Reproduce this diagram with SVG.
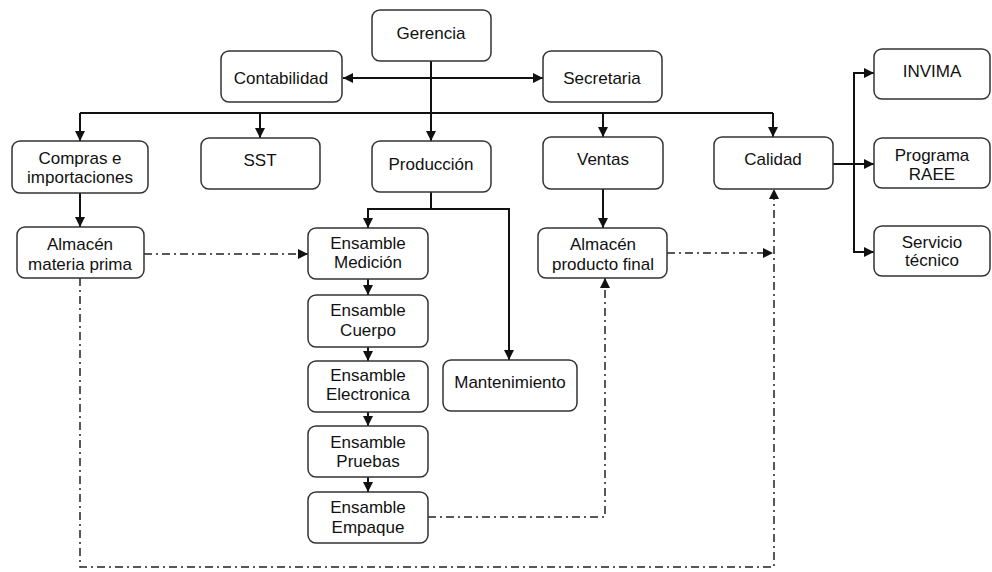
<svg xmlns="http://www.w3.org/2000/svg" width="992" height="572" viewBox="0 0 992 572">
<style>
.box{fill:#fff;stroke:#333;stroke-width:1.5}
.t{font-family:"Liberation Sans",Arial,sans-serif;font-size:17px;fill:#111;text-anchor:middle}
.s{fill:none;stroke:#111;stroke-width:2}
.d{fill:none;stroke:#222;stroke-width:1.5;stroke-dasharray:8 4 2 4}
</style>
<defs>
<marker id="a" viewBox="0 0 10 10" refX="10" refY="5" markerWidth="10" markerHeight="10" markerUnits="userSpaceOnUse" orient="auto-start-reverse">
<path d="M0,0 L10,5 L0,10 Z" fill="#111"/>
</marker>
</defs>
<rect width="992" height="572" fill="#fff"/>
<g id="connectors">
<line class="s" x1="431" y1="61" x2="431" y2="141" marker-end="url(#a)"/>
<line class="s" x1="343" y1="78" x2="543" y2="78" marker-start="url(#a)" marker-end="url(#a)"/>
<line class="s" x1="80" y1="113" x2="773" y2="113" stroke-width="1.6"/>
<line class="s" x1="80" y1="113" x2="80" y2="141" marker-end="url(#a)"/>
<line class="s" x1="260" y1="113" x2="260" y2="138" marker-end="url(#a)"/>
<line class="s" x1="603" y1="113" x2="603" y2="137" marker-end="url(#a)"/>
<line class="s" x1="773" y1="113" x2="773" y2="137" marker-end="url(#a)"/>
<line class="s" x1="80" y1="193" x2="80" y2="227" marker-end="url(#a)"/>
<polyline class="s" points="431,192 431,209 368,209 368,228" marker-end="url(#a)"/>
<polyline class="s" points="431,209 509,209 509,360" marker-end="url(#a)"/>
<line class="s" x1="368" y1="279" x2="368" y2="295" marker-end="url(#a)"/>
<line class="s" x1="368" y1="347" x2="368" y2="361" marker-end="url(#a)"/>
<line class="s" x1="368" y1="412" x2="368" y2="426" marker-end="url(#a)"/>
<line class="s" x1="368" y1="477" x2="368" y2="492" marker-end="url(#a)"/>
<line class="s" x1="603" y1="189" x2="603" y2="228" marker-end="url(#a)"/>
<line class="s" x1="833" y1="164" x2="874" y2="164" marker-end="url(#a)"/>
<polyline class="s" points="874,73 854,73 854,252 874,252" marker-start="url(#a)" marker-end="url(#a)"/>
<line class="d" x1="144" y1="254" x2="308" y2="254" marker-end="url(#a)"/>
<polyline class="d" points="80,278 80,567 774,567 774,189" marker-end="url(#a)"/>
<line class="d" x1="667" y1="253" x2="773" y2="253" marker-end="url(#a)"/>
<polyline class="d" points="428,517 605,517 605,278" marker-end="url(#a)"/>
</g>
<g id="gerencia"><rect class="box" x="372" y="10" width="119" height="51" rx="8"/><text class="t" x="431" y="39">Gerencia</text></g>
<g id="contabilidad"><rect class="box" x="221" y="51" width="121" height="51" rx="8"/><text class="t" x="281" y="84">Contabilidad</text></g>
<g id="secretaria"><rect class="box" x="543" y="51" width="119" height="51" rx="8"/><text class="t" x="602" y="84">Secretaria</text></g>
<g id="compras"><rect class="box" x="12" y="141" width="136" height="52" rx="8"/><text class="t" x="80" y="164">Compras e</text><text class="t" x="80" y="183">importaciones</text></g>
<g id="sst"><rect class="box" x="201" y="138" width="119" height="51" rx="8"/><text class="t" x="260" y="166">SST</text></g>
<g id="produccion"><rect class="box" x="372" y="141" width="119" height="51" rx="8"/><text class="t" x="431" y="170">Producción</text></g>
<g id="ventas"><rect class="box" x="543" y="137" width="120" height="52" rx="8"/><text class="t" x="603" y="165">Ventas</text></g>
<g id="calidad"><rect class="box" x="714" y="137" width="119" height="52" rx="8"/><text class="t" x="773" y="165">Calidad</text></g>
<g id="invima"><rect class="box" x="874" y="49" width="116" height="50" rx="8"/><text class="t" x="932" y="77">INVIMA</text></g>
<g id="raee"><rect class="box" x="874" y="138" width="116" height="50" rx="8"/><text class="t" x="932" y="161">Programa</text><text class="t" x="932" y="180">RAEE</text></g>
<g id="servicio"><rect class="box" x="874" y="226" width="116" height="50" rx="8"/><text class="t" x="932" y="248">Servicio</text><text class="t" x="932" y="266">técnico</text></g>
<g id="almacen-mp"><rect class="box" x="17" y="227" width="127" height="51" rx="8"/><text class="t" x="80" y="250">Almacén</text><text class="t" x="80" y="270">materia prima</text></g>
<g id="ens-medicion"><rect class="box" x="308" y="228" width="120" height="51" rx="8"/><text class="t" x="368" y="249">Ensamble</text><text class="t" x="368" y="268">Medición</text></g>
<g id="ens-cuerpo"><rect class="box" x="308" y="295" width="120" height="52" rx="8"/><text class="t" x="368" y="316">Ensamble</text><text class="t" x="368" y="336">Cuerpo</text></g>
<g id="ens-electronica"><rect class="box" x="308" y="361" width="120" height="51" rx="8"/><text class="t" x="368" y="381">Ensamble</text><text class="t" x="368" y="400">Electronica</text></g>
<g id="ens-pruebas"><rect class="box" x="308" y="426" width="120" height="51" rx="8"/><text class="t" x="368" y="448">Ensamble</text><text class="t" x="368" y="467">Pruebas</text></g>
<g id="ens-empaque"><rect class="box" x="308" y="492" width="120" height="51" rx="8"/><text class="t" x="368" y="513">Ensamble</text><text class="t" x="368" y="533">Empaque</text></g>
<g id="mantenimiento"><rect class="box" x="443" y="360" width="134" height="51" rx="8"/><text class="t" x="510" y="388">Mantenimiento</text></g>
<g id="almacen-pf"><rect class="box" x="538" y="228" width="129" height="50" rx="8"/><text class="t" x="603" y="250">Almacén</text><text class="t" x="603" y="270">producto final</text></g>
</svg>
